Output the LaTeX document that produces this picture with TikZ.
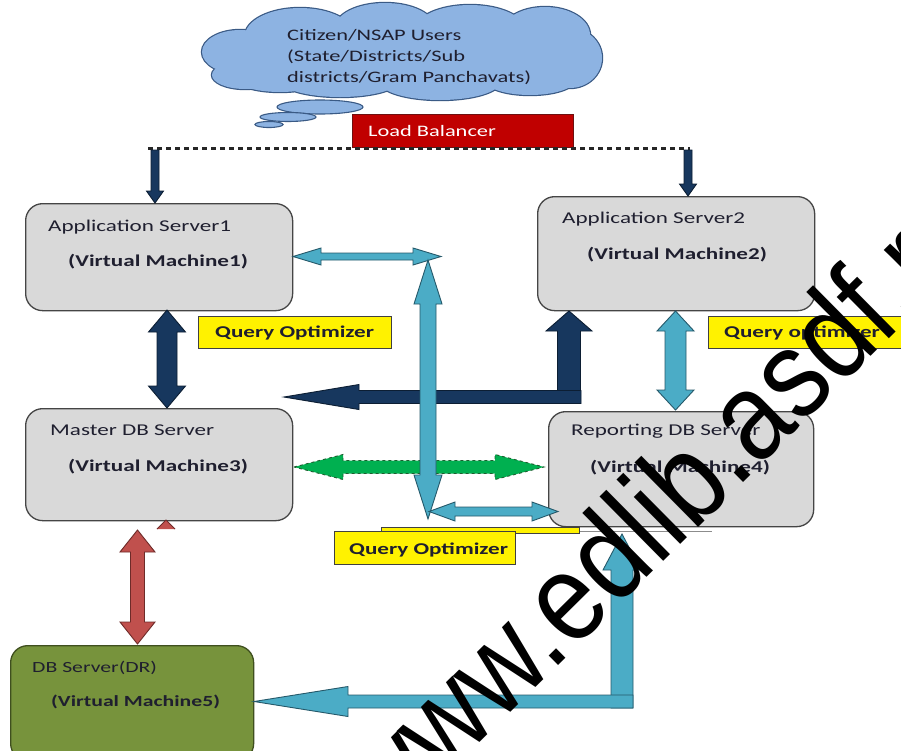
\documentclass[tikz,border=0pt]{standalone}
\usepackage{fontspec}
\setmainfont{Carlito}[FakeStretch=1.4]
\newfontfamily\wmfont{Liberation Sans}
\usetikzlibrary{shapes.geometric,calc}
\definecolor{boxgray}{HTML}{D9D9D9}
\definecolor{bordergray}{HTML}{454545}
\definecolor{txtc}{HTML}{1F1F2F}
\definecolor{cloudf}{HTML}{8DB3E2}
\definecolor{cloudb}{HTML}{3A5A85}
\definecolor{lbred}{HTML}{C00000}
\definecolor{lbredb}{HTML}{6E1010}
\definecolor{navy}{HTML}{17375E}
\definecolor{navyb}{HTML}{0C1E33}
\definecolor{lblue}{HTML}{4BACC6}
\definecolor{lblueb}{HTML}{25596A}
\definecolor{greenf}{HTML}{00B050}
\definecolor{greenb}{HTML}{1E5E30}
\definecolor{redf}{HTML}{C0504D}
\definecolor{redb}{HTML}{6E2B29}
\definecolor{olive}{HTML}{77933C}
\definecolor{oliveb}{HTML}{3F4F1F}
\definecolor{qoborder}{HTML}{404040}
\newcommand{\VDbl}[6]{\draw[#6] (#1) -- ($(#1)+(#4,#5)$) -- ($(#1)+(#3,#5)$) -- ($(#2)+(#3,-#5)$) -- ($(#2)+(#4,-#5)$) -- (#2) -- ($(#2)+(-#4,-#5)$) -- ($(#2)+(-#3,-#5)$) -- ($(#1)+(-#3,#5)$) -- ($(#1)+(-#4,#5)$) -- cycle;}
\newcommand{\HDbl}[6]{\draw[#6] (#1) -- ($(#1)+(#5,-#4)$) -- ($(#1)+(#5,-#3)$) -- ($(#2)+(-#5,-#3)$) -- ($(#2)+(-#5,-#4)$) -- (#2) -- ($(#2)+(-#5,#4)$) -- ($(#2)+(-#5,#3)$) -- ($(#1)+(#5,#3)$) -- ($(#1)+(#5,#4)$) -- cycle;}
\newcommand{\VDown}[6]{\draw[#6] ($(#1)+(-#3,0)$) -- ($(#2)+(-#3,-#5)$) -- ($(#2)+(-#4,-#5)$) -- (#2) -- ($(#2)+(#4,-#5)$) -- ($(#2)+(#3,-#5)$) -- ($(#1)+(#3,0)$) -- cycle;}
\newcommand{\VUp}[6]{\draw[#6] (#1) -- ($(#1)+(#4,#5)$) -- ($(#1)+(#3,#5)$) -- ($(#2)+(#3,0)$) -- ($(#2)+(-#3,0)$) -- ($(#1)+(-#3,#5)$) -- ($(#1)+(-#4,#5)$) -- cycle;}
\newcommand{\HLeft}[6]{\draw[#6] (#1) -- ($(#1)+(#5,-#4)$) -- ($(#1)+(#5,-#3)$) -- ($(#2)+(0,-#3)$) -- ($(#2)+(0,#3)$) -- ($(#1)+(#5,#3)$) -- ($(#1)+(#5,#4)$) -- cycle;}
\newcommand{\cloudpuffs}{(240,52) ellipse [x radius=38, y radius=22]
  (245,75) ellipse [x radius=33, y radius=14]
  (300,36) ellipse [x radius=55, y radius=28]
  (385,28) ellipse [x radius=50, y radius=25]
  (470,30) ellipse [x radius=55, y radius=25]
  (545,35) ellipse [x radius=45, y radius=28]
  (570,58) ellipse [x radius=32, y radius=30]
  (530,80) ellipse [x radius=45, y radius=15]
  (440,82) ellipse [x radius=60, y radius=18]
  (340,80) ellipse [x radius=60, y radius=17]
  (280,78) ellipse [x radius=45, y radius=14]
  (400,55) ellipse [x radius=165, y radius=35]}
\tikzset{
  srv/.style={draw=bordergray, line width=1.3pt, fill=boxgray, rounded corners=17pt, inner sep=0pt, anchor=north west},
  qo/.style={draw=qoborder, line width=1.2pt, fill=yellow, inner sep=0pt, anchor=north west},
  lbl/.style={inner sep=0pt, text=txtc, font=\fontsize{16.5}{20}\selectfont, anchor=base west},
  lblb/.style={lbl, font=\fontsize{16.5}{20}\selectfont\bfseries},
  cltxt/.style={inner sep=0pt, text=txtc, font=\fontsize{16}{20}\selectfont, anchor=base west},
  navyarr/.style={fill=navy, draw=navyb, line width=0.9pt, line join=miter},
  bluearr/.style={fill=lblue, draw=lblueb, line width=0.9pt, line join=miter},
  greenarr/.style={fill=greenf, draw=greenb, line width=0.9pt, dashed, line join=miter},
  redarr/.style={fill=redf, draw=redb, line width=0.9pt, line join=miter},
  dotline/.style={draw=black!85, line width=3.5pt, dash pattern=on 4.5pt off 4.5pt},
  bubble/.style={ellipse, draw=cloudb, fill=cloudf, line width=1.1pt, inner sep=0pt},
}
\begin{document}
\begin{tikzpicture}[x=1pt,y=-1pt]
\useasboundingbox (0,0) rectangle (901,750);
\fill[white] (0,0) rectangle (901,750);
\begin{scope}
\clip (0,0) rectangle (901,750);
% cloud (union of puffs)
\draw[cloudb, line width=2.4pt] \cloudpuffs;
\fill[cloudf] \cloudpuffs;
\coordinate (cloud) at (400,55);
\node[bubble, minimum width=86pt, minimum height=14pt] (bub1) at (320,107) {};
\node[bubble, minimum width=56pt, minimum height=9pt] (bub2) at (288,117) {};
\node[bubble, minimum width=28pt, minimum height=6pt] (bub3) at (269,124.5) {};
\node[cltxt] (c1) at (287,40) {Citizen/NSAP Users};
\node[cltxt] (c2) at (287,61) {(State/Districts/Sub};
\node[cltxt] (c3) at (287,82) {districts/Gram Panchavats)};
% load balancer
\node[fill=lbred, draw=lbredb, line width=1pt, minimum width=221pt, minimum height=33pt, inner sep=0pt, anchor=north west] (lb) at (352,114) {};
\node[inner sep=0pt, anchor=base west, text=white, font=\fontsize{16}{20}\selectfont] (lbt) at (368,136) {Load Balancer};
% dotted distribution line
\coordinate (dL) at (148,148.5);
\coordinate (dR) at (690,148.5);
\draw[dotline] (dL) -- (dR);
% servers
\node[srv, minimum width=267pt, minimum height=107pt] (app1) at (25,203) {};
\node[srv, minimum width=277pt, minimum height=114pt] (app2) at (537,196) {};
\node[srv, minimum width=267pt, minimum height=112pt] (mdb) at (25,408) {};
\node[srv, minimum width=265pt, minimum height=115pt] (rdb) at (548,411) {};
\node[srv, fill=olive, draw=oliveb, minimum width=243pt, minimum height=115pt] (dr) at (10,645) {};
\node[lbl] (app1a) at (48,231) {Application Server1};
\node[lblb] (app1b) at (68,266) {(Virtual Machine1)};
\node[lbl] (app2a) at (562,223) {Application Server2};
\node[lblb] (app2b) at (587,259) {(Virtual Machine2)};
\node[lbl] (mdba) at (50,435) {Master DB Server};
\node[lblb] (mdbb) at (68,471) {(Virtual Machine3)};
\node[lbl] (rdba) at (571,435) {Reporting DB Server};
\node[lblb] (rdbb) at (590,472) {(Virtual Machine4)};
\node[lbl, font=\fontsize{15.5}{19}\selectfont] (dra) at (32,672) {DB Server(DR)};
\node[lblb, font=\fontsize{15.5}{19}\selectfont\bfseries] (drb) at (51,706) {(Virtual Machine5)};
% query optimizers
\node[qo, minimum width=193pt, minimum height=32pt] (qo1) at (198,316) {};
\node[lblb] (qo1t) at (215,337) {Query Optimizer};
\node[qo, minimum width=220pt, minimum height=32pt] (qo2) at (708,316) {};
\node[lblb] (qo2t) at (724,337) {Query optimizer};
% connectors from dotted line
\coordinate (t1s) at (155,150); \coordinate (t1e) at (155,203);
\coordinate (t2s) at (688,150); \coordinate (t2e) at (688,196);
\VDown{t1s}{t1e}{4}{8.5}{12}{navyarr}
\VDown{t2s}{t2e}{4}{8.5}{12}{navyarr}
% navy arrows
\coordinate (nv1) at (167,310); \coordinate (nv2) at (167,408);
\VDbl{nv1}{nv2}{10}{18.5}{22}{navyarr}
\coordinate (nvU) at (569,311); \coordinate (nvUb) at (569,403);
\VUp{nvU}{nvUb}{11.5}{23}{20}{navyarr}
\coordinate (nvL) at (284,397); \coordinate (nvLe) at (581,397);
\HLeft{nvL}{nvLe}{6.5}{12.5}{75}{navyarr}
% green dashed
\coordinate (gL) at (294,467); \coordinate (gR) at (544,467);
\HDbl{gL}{gR}{6.5}{12.5}{49}{greenarr}
% light blue arrows
\coordinate (b1L) at (293,256.5); \coordinate (b1R) at (441,256.5);
\HDbl{b1L}{b1R}{3.5}{8.5}{28}{bluearr}
\coordinate (b2T) at (428,260); \coordinate (b2B) at (428,519);
\VDbl{b2T}{b2B}{8}{14}{44}{bluearr}
\coordinate (b3L) at (429,511.5); \coordinate (b3R) at (558,511.5);
\HDbl{b3L}{b3R}{4.5}{9.5}{26}{bluearr}
\coordinate (b4T) at (675.5,311); \coordinate (b4B) at (675.5,410);
\VDbl{b4T}{b4B}{10.5}{18.5}{20}{bluearr}
\coordinate (b5T) at (622,534); \coordinate (b5B) at (622,708);
\VUp{b5T}{b5B}{11}{19}{36}{bluearr}
\coordinate (b5L) at (254,701.5); \coordinate (b5E) at (633,701.5);
\HLeft{b5L}{b5E}{6.5}{15}{94}{bluearr}
% red
\coordinate (rT) at (137.5,530); \coordinate (rB) at (137.5,644);
\VDbl{rT}{rB}{7}{17.5}{22}{redarr}
\coordinate (rp) at (166,520);
\fill[redf] (rp) -- ($(rp)+(9,9)$) -- ($(rp)+(-9,9)$) -- cycle;
\draw[redb, line width=0.8pt] ($(rp)+(9,9)$) -- (rp) -- ($(rp)+(-9,9)$);
% bottom query optimizer
\coordinate (shA) at (560,531); \coordinate (shB) at (712,531);
\draw[black!45, line width=0.8pt] (shA) -- (shB);
\node[qo, minimum width=198pt, minimum height=6pt] (qo3b) at (381,527) {};
\node[qo, minimum width=181pt, minimum height=33pt] (qo3) at (334,531) {};
\node[lblb] (qo3t) at (349,554) {Query Optimizer};
% watermark
\node[inner sep=0pt, anchor=base west, rotate=44.7, font=\wmfont\fontsize{125}{125}\selectfont] (wm) at (388,834) {\scalebox{0.87}[1]{www.edlib.asdf.r}};
\end{scope}
\end{tikzpicture}
\end{document}
